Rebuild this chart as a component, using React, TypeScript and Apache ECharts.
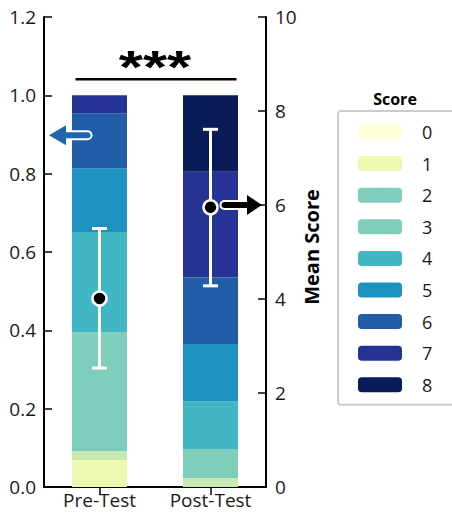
import React, { useEffect, useRef } from "react";
import * as echarts from "echarts";

const categories = ["Pre-Test", "Post-Test"];
const scores = ["0", "1", "2", "3", "4", "5", "6", "7", "8"];
const preTest = [0, 0.069, 0.023, 0.303, 0.256, 0.163, 0.14, 0.046, 0];
const postTest = [0, 0, 0.023, 0.073, 0.122, 0.147, 0.17, 0.27, 0.195];
const barColors = ["#ffffd9", "#edf8b1", "#c7e9b4", "#7fcdbb", "#41b6c4", "#1d91c0", "#225ea8", "#253494", "#081d58"];
const legendColors = ["#ffffd9", "#edf8b1", "#7fcdbb", "#7fcdbb", "#41b6c4", "#1d91c0", "#225ea8", "#253494", "#081d58"];
const meanScores = [4.01, 5.95];
const errLow = [2.53, 4.28];
const errHigh = [5.5, 7.61];
const leftArrowValue = 0.898;
const rightArrowValue = 6;
const sigLevel = 1.041;
const sigText = "***";

const FONT = "Open Sans";

export default function App() {
  const ref = useRef<HTMLDivElement>(null);
  useEffect(() => {
    const chart = echarts.init(ref.current!, null, { renderer: "svg" });
    const axisLine = { show: true, lineStyle: { color: "#000", width: 2 } };
    const tick = { show: true, inside: true, length: 8, lineStyle: { color: "#000", width: 1.5 } };
    const barSeries = scores.map((s, i) => ({
      name: s,
      type: "bar",
      stack: "total",
      barWidth: 55,
      xAxisIndex: 0,
      yAxisIndex: 0,
      itemStyle: { color: barColors[i] },
      data: [preTest[i], postTest[i]],
      z: 2,
    }));
    const option: any = {
      animation: false,
      grid: { left: 44, right: 186, top: 17, bottom: 26, containLabel: false },
      legend: {
        orient: "vertical",
        left: 338,
        top: 111,
        data: scores.map((s, i) => ({ name: s, itemStyle: { color: legendColors[i] } })),
        itemWidth: 44,
        itemHeight: 15,
        itemGap: 13.6,
        padding: [12, 24, 11, 20],
        borderColor: "#cccccc",
        borderWidth: 2,
        borderRadius: 3,
        selectedMode: false,
        textStyle: { fontFamily: FONT, fontSize: 18, color: "#1a1a1a", padding: [0, 0, 0, 15] },
      },
      xAxis: [
        {
          type: "category",
          data: categories,
          position: "bottom",
          axisLine,
          axisTick: { ...tick, alignWithLabel: true },
          axisLabel: { fontFamily: FONT, fontSize: 19, color: "#1a1a1a", margin: 3 },
        },
        {
          type: "category",
          data: categories,
          position: "top",
          axisLine,
          axisTick: { ...tick, alignWithLabel: true },
          axisLabel: { show: false },
        },
      ],
      yAxis: [
        {
          type: "value",
          min: 0,
          max: 1.2,
          interval: 0.2,
          position: "left",
          axisLine,
          axisTick: tick,
          splitLine: { show: false },
          axisLabel: {
            fontFamily: FONT,
            fontSize: 19,
            color: "#1a1a1a",
            margin: 8,
            formatter: (v: number) => v.toFixed(1),
          },
        },
        {
          type: "value",
          min: 0,
          max: 10,
          interval: 2,
          position: "right",
          name: "Mean Score",
          nameLocation: "middle",
          nameRotate: 90,
          nameGap: 35,
          nameTextStyle: { fontFamily: FONT, fontSize: 20, fontWeight: "bold", color: "#000", padding: [0, 0, 0, 10] },
          axisLine,
          axisTick: tick,
          splitLine: { show: false },
          axisLabel: { fontFamily: FONT, fontSize: 19, color: "#1a1a1a", margin: 9 },
        },
      ],
      series: [
        ...barSeries,
        {
          type: "custom",
          name: "err",
          xAxisIndex: 0,
          yAxisIndex: 1,
          z: 5,
          data: categories.map((c, i) => [i, errLow[i], errHigh[i]]),
          encode: { x: 0, y: [1, 2] },
          renderItem: (params: any, api: any) => {
            const lo = api.coord([api.value(0), api.value(1)]);
            const hi = api.coord([api.value(0), api.value(2)]);
            const cw = 7.5;
            const style = { stroke: "#ffffff", lineWidth: 3, fill: "none" };
            return {
              type: "group",
              children: [
                { type: "line", shape: { x1: lo[0], y1: lo[1], x2: hi[0], y2: hi[1] }, style },
                { type: "line", shape: { x1: lo[0] - cw, y1: lo[1], x2: lo[0] + cw, y2: lo[1] }, style },
                { type: "line", shape: { x1: hi[0] - cw, y1: hi[1], x2: hi[0] + cw, y2: hi[1] }, style },
              ],
            };
          },
        },
        {
          type: "scatter",
          name: "mean",
          xAxisIndex: 0,
          yAxisIndex: 1,
          z: 6,
          symbol: "circle",
          symbolSize: 14,
          itemStyle: { color: "#000", borderColor: "#fff", borderWidth: 2.5, opacity: 1 },
          data: categories.map((c, i) => [i, meanScores[i]]),
        },
      ],
    };
    chart.setOption(option);

    const grid = { left: 44, right: 452 - 186 };
    const yL = chart.convertToPixel({ yAxisIndex: 0 }, leftArrowValue) as number;
    const preX = chart.convertToPixel({ xAxisIndex: 0 }, 0) as number;
    const postX = chart.convertToPixel({ xAxisIndex: 0 }, 1) as number;
    const yR = chart.convertToPixel({ yAxisIndex: 1 }, rightArrowValue) as number;
    const ySig = chart.convertToPixel({ yAxisIndex: 0 }, sigLevel) as number;
    const blue = "#2166ac";

    const arrowL = { tipX: grid.left + 5, baseX: grid.left + 22, endX: preX - 12 };
    const arrowR = { startX: postX + 14, baseX: grid.right - 19, tipX: grid.right - 4 };

    chart.setOption({
      graphic: [
        {
          type: "line",
          z: 10,
          shape: { x1: preX - 24, y1: ySig, x2: postX + 26, y2: ySig },
          style: { stroke: "#000", lineWidth: 2.5 },
        },
        {
          type: "text",
          z: 10,
          x: (preX + postX) / 2,
          y: ySig - 12,
          scaleX: 1.35,
          scaleY: 1,
          style: {
            text: sigText,
            fontFamily: "Liberation Sans",
            fontWeight: "bold",
            fontSize: 46,
            fill: "#000",
            textAlign: "center",
            textVerticalAlign: "middle",
          },
        },
        {
          type: "line",
          z: 10,
          shape: { x1: arrowL.baseX - 2, y1: yL, x2: arrowL.endX, y2: yL },
          style: { stroke: "#fff", lineWidth: 10, lineCap: "round" },
        },
        {
          type: "line",
          z: 11,
          shape: { x1: arrowL.baseX - 2, y1: yL, x2: arrowL.endX, y2: yL },
          style: { stroke: blue, lineWidth: 6, lineCap: "round" },
        },
        {
          type: "polygon",
          z: 12,
          shape: { points: [[arrowL.tipX, yL], [arrowL.baseX, yL - 10], [arrowL.baseX, yL + 10]] },
          style: { fill: blue },
        },
        {
          type: "line",
          z: 10,
          shape: { x1: arrowR.startX, y1: yR, x2: arrowR.baseX + 2, y2: yR },
          style: { stroke: "#fff", lineWidth: 10, lineCap: "round" },
        },
        {
          type: "line",
          z: 11,
          shape: { x1: arrowR.startX, y1: yR, x2: arrowR.baseX + 2, y2: yR },
          style: { stroke: "#000", lineWidth: 6, lineCap: "round" },
        },
        {
          type: "polygon",
          z: 12,
          shape: { points: [[arrowR.tipX, yR], [arrowR.baseX, yR - 10], [arrowR.baseX, yR + 10]] },
          style: { fill: "#000" },
        },
        {
          type: "text",
          z: 10,
          x: 395,
          y: 99,
          style: {
            text: "Score",
            fontFamily: FONT,
            fontWeight: "bold",
            fontSize: 16,
            fill: "#000",
            textAlign: "center",
            textVerticalAlign: "middle",
          },
        },
      ],
    });
    return () => chart.dispose();
  }, []);
  return <div ref={ref} style={{ position: "absolute", left: 0, top: 0, width: 452, height: 513 }} />;
}
